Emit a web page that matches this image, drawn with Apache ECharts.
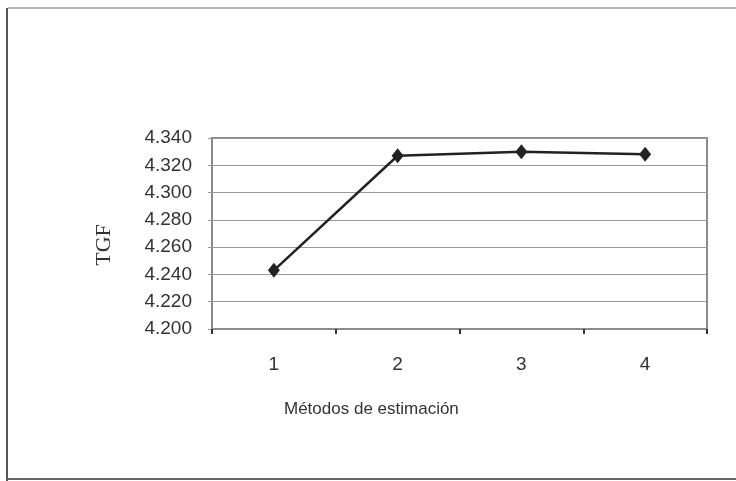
<!DOCTYPE html>
<html>
<head>
<meta charset="utf-8">
<script src="https://cdn.jsdelivr.net/npm/echarts@6/dist/echarts.min.js"></script>
<style>
html,body{margin:0;padding:0;background:#fff;}
#chart{width:736px;height:481px;}
</style>
</head>
<body>
<div id="chart"></div>
<script>
const categories = ['1', '2', '3', '4'];
const tgfValues = [4.243, 4.327, 4.330, 4.328];
const yTicks = { min: 4.2, max: 4.34, interval: 0.02 };
const xAxisTitle = 'Métodos de estimación';
const yAxisTitle = 'TGF';

const chart = echarts.init(document.getElementById('chart'));
chart.setOption({
  backgroundColor: '#ffffff',
  animation: false,
  grid: {
    left: 212, top: 138, right: 29, bottom: 152,
    show: true, borderColor: '#8c8c8c', borderWidth: 2, backgroundColor: 'transparent'
  },
  xAxis: {
    type: 'category',
    data: categories,
    boundaryGap: true,
    axisLine: { lineStyle: { color: '#8c8c8c', width: 2 } },
    axisTick: { show: true, length: 5, inside: false, lineStyle: { color: '#333', width: 2 } },
    axisLabel: { margin: 26, color: '#333', fontFamily: 'Liberation Sans, Arial, sans-serif', fontSize: 19 },
    splitLine: { show: false }
  },
  yAxis: {
    type: 'value',
    min: yTicks.min, max: yTicks.max, interval: yTicks.interval,
    axisLine: { show: true, lineStyle: { color: '#8c8c8c', width: 2 } },
    axisTick: { show: true, length: 4, lineStyle: { color: '#999', width: 1 } },
    axisLabel: {
      margin: 20, color: '#333', fontFamily: 'Liberation Sans, Arial, sans-serif', fontSize: 19,
      formatter: v => v.toFixed(3)
    },
    splitLine: { show: true, lineStyle: { color: '#9a9a9a', width: 1 } }
  },
  series: [{
    type: 'line',
    data: tgfValues,
    symbol: 'diamond',
    symbolSize: [12, 15],
    lineStyle: { color: '#222', width: 2.5 },
    itemStyle: { color: '#222' }
  }],
  graphic: [
    { type: 'line', shape: { x1: 8, y1: 8, x2: 736, y2: 8 }, style: { stroke: '#b5b5b5', lineWidth: 2 } },
    { type: 'line', shape: { x1: 7, y1: 8, x2: 7, y2: 481 }, style: { stroke: '#555', lineWidth: 2 } },
    { type: 'line', shape: { x1: 7, y1: 479, x2: 736, y2: 479 }, style: { stroke: '#666', lineWidth: 2 } },
    { type: 'text', x: 104, y: 245, rotation: Math.PI / 2,
      style: { text: yAxisTitle, fill: '#333', font: '22px "Liberation Serif", "Times New Roman", serif', align: 'center', verticalAlign: 'middle' } },
    { type: 'text', left: 284, top: 401, style: { text: xAxisTitle, fill: '#333', font: '17px "Liberation Sans", Arial, sans-serif' } }
  ]
});
</script>
</body>
</html>
